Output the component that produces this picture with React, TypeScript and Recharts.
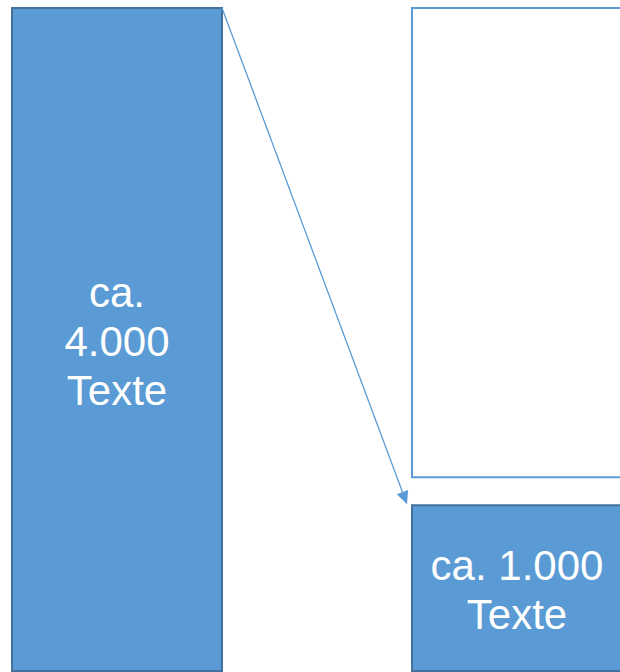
import React from 'react';
import { BarChart, Bar, XAxis, YAxis } from 'recharts';

// two columns: all texts vs. the selected sample
const categories = ['Alle Texte', 'Auswahl'];
const allTexts = [4000, null];
const selectedTexts = [null, 1000];
const restTexts = [null, 3000];
const labelLines = [['ca.', '4.000', 'Texte'], ['ca. 1.000', 'Texte']];

const data = categories.map((name, i) => ({
  name,
  all: allTexts[i],
  selected: selectedTexts[i],
  rest: restTexts[i],
  lines: labelLines[i],
}));

const BLUE = '#5B9BD5';
const DARK = '#41719C';
const FONT = '"Liberation Sans", Arial, sans-serif';

// top-right corner of the big column, used as the arrow start
const anchor = { x: 0, y: 0 };

function Label({ x, y, width, height, lines }: any) {
  const cx = x + width / 2;
  const cy = y + height / 2 + 2;
  const step = 49;
  return (
    <text x={cx} textAnchor="middle" fill="#fff" fontSize={42} fontFamily={FONT}>
      {lines.map((l: string, i: number) => (
        <tspan key={i} x={cx} y={cy + (i - (lines.length - 1) / 2) * step} dominantBaseline="central">
          {l}
        </tspan>
      ))}
    </text>
  );
}

function AllShape(props: any) {
  const { x, y, width, height, payload } = props;
  if (!height || height <= 0) return null;
  anchor.x = x + width;
  anchor.y = y;
  return (
    <g>
      <rect x={x} y={y} width={width} height={height} fill={BLUE} stroke={DARK} strokeWidth={2} />
      <Label x={x} y={y} width={width} height={height} lines={payload.lines} />
    </g>
  );
}

function SelectedShape(props: any) {
  const { x, y, width, height, payload } = props;
  if (!height || height <= 0) return null;
  const tx = x - 5;
  const ty = y - 1;
  const dx = tx - anchor.x;
  const dy = ty - anchor.y;
  const len = Math.sqrt(dx * dx + dy * dy) || 1;
  const ux = dx / len;
  const uy = dy / len;
  const headLen = 13;
  const headW = 6;
  const bx = tx - ux * headLen;
  const by = ty - uy * headLen;
  const head = `${tx},${ty} ${bx - uy * headW},${by + ux * headW} ${bx + uy * headW},${by - ux * headW}`;
  return (
    <g>
      <rect x={x} y={y} width={width} height={height} fill={BLUE} stroke={DARK} strokeWidth={2} />
      <Label x={x} y={y} width={width} height={height} lines={payload.lines} />
      <line x1={anchor.x} y1={anchor.y} x2={bx} y2={by} stroke={BLUE} strokeWidth={1.3} />
      <polygon points={head} fill={BLUE} />
    </g>
  );
}

function RestShape(props: any) {
  const { x, y, width, height } = props;
  if (!height || height <= 0) return null;
  // outline box sits a bit above the filled sample
  return (
    <rect x={x} y={y} width={width} height={height - 28} fill="#fff" stroke={BLUE} strokeWidth={2} />
  );
}

export default function App() {
  return (
    <div style={{ position: 'fixed', left: 0, top: 0, width: 620, height: 672, overflow: 'hidden', background: '#fff' }}>
      <div style={{ position: 'absolute', left: -83, top: 0 }}>
        <BarChart
          width={800}
          height={672}
          data={data}
          margin={{ top: 8, right: 0, bottom: 1, left: 0 }}
          barSize={210}
        >
          <XAxis dataKey="name" hide />
          <YAxis hide domain={[0, 4000]} />
          <Bar dataKey="all" stackId="s" shape={AllShape} isAnimationActive={false} />
          <Bar dataKey="selected" stackId="s" shape={SelectedShape} isAnimationActive={false} />
          <Bar dataKey="rest" stackId="s" shape={RestShape} isAnimationActive={false} />
        </BarChart>
      </div>
    </div>
  );
}
